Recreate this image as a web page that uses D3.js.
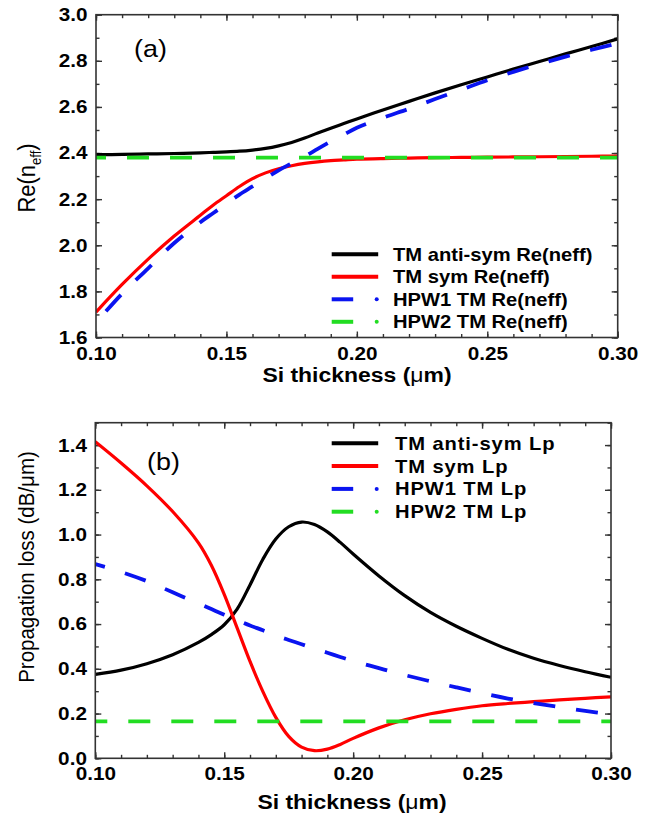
<!DOCTYPE html>
<html><head><meta charset="utf-8">
<script src="https://cdn.jsdelivr.net/npm/d3@7"></script>
<style>
body{margin:0;background:#fff}
svg{display:block}
text{font-family:"Liberation Sans",Arial,Helvetica,sans-serif}
</style>
</head><body>
<svg id="c" width="652" height="815"></svg>
<script>
// ---------------- DATA ----------------
const thickness = [0.10,0.11,0.12,0.13,0.14,0.145,0.15,0.155,0.16,0.165,0.17,0.175,0.18,0.185,0.19,0.195,0.20,0.21,0.22,0.23,0.24,0.25,0.26,0.27,0.28,0.29,0.30];

// panel (a): Re(neff)
const antiSymRe = [2.393,2.394,2.396,2.398,2.401,2.403,2.405,2.408,2.413,2.420,2.431,2.446,2.465,2.487,2.508,2.528,2.548,2.587,2.624,2.661,2.696,2.730,2.764,2.797,2.830,2.862,2.895];
const symRe     = [1.71,1.83,1.94,2.04,2.13,2.175,2.215,2.255,2.289,2.314,2.332,2.345,2.355,2.362,2.367,2.370,2.373,2.376,2.378,2.380,2.381,2.382,2.383,2.384,2.385,2.386,2.387];
const hpw1Re    = [1.665,1.79,1.90,2.01,2.10,2.14,2.18,2.22,2.255,2.29,2.325,2.355,2.385,2.418,2.45,2.48,2.51,2.553,2.592,2.634,2.675,2.716,2.752,2.786,2.818,2.848,2.876];
const hpw2Thickness = [0.10,0.30];
const hpw2Re    = [2.38,2.38];

// panel (b): propagation loss (dB/um)
const antiSymLp = [0.375,0.394,0.423,0.463,0.518,0.553,0.597,0.667,0.775,0.89,0.98,1.035,1.056,1.045,1.012,0.965,0.913,0.815,0.727,0.652,0.59,0.536,0.487,0.447,0.415,0.387,0.362];
const symLp     = [1.415,1.32,1.218,1.103,0.963,0.863,0.733,0.583,0.433,0.298,0.183,0.098,0.05,0.034,0.041,0.062,0.089,0.136,0.172,0.199,0.219,0.235,0.245,0.253,0.261,0.268,0.275];
const hpw1Lp    = [0.868,0.833,0.792,0.742,0.692,0.667,0.642,0.618,0.594,0.572,0.549,0.529,0.51,0.49,0.472,0.453,0.435,0.403,0.372,0.344,0.317,0.291,0.267,0.247,0.229,0.212,0.196];
const hpw2Lp    = [0.165,0.165];

// ticks / labels
const xTickValues = [0.10,0.15,0.20,0.25,0.30];
const reTickValues = [1.6,1.8,2.0,2.2,2.4,2.6,2.8,3.0];
const lpTickValues = [0.0,0.2,0.4,0.6,0.8,1.0,1.2,1.4];
const legendA = ["TM anti-sym Re(neff)","TM sym Re(neff)","HPW1 TM Re(neff)","HPW2 TM Re(neff)"];
const legendB = ["TM anti-sym Lp","TM sym Lp","HPW1 TM Lp","HPW2 TM Lp"];
const seriesColors = ["#000000","#ff0000","#0a14f0","#22dd22"];

// ---------------- DRAW ----------------
const svg = d3.select("#c");
const SX = 1.12;          // horizontal stretch of the original picture's text
const FRAME = "#333";

function stext(g, x, y, str, o={}) {
  const t = g.append("text")
    .attr("transform", `translate(${x},${y}) scale(${SX},1)`)
    .attr("font-size", o.size || 18)
    .attr("font-weight", o.weight || "bold")
    .attr("text-anchor", o.anchor || "start")
    .attr("fill", "#000");
  if (o.ls) t.attr("letter-spacing", o.ls);
  if (o.dy) t.attr("dy", o.dy);
  t.text(str);
  return t;
}

function panel(cfg) {
  const {L,R,T,B,yDomain,yTicks,series,legend,legX,legTextX,legY0,legDY,legLS,tag,tagX,tagY,id} = cfg;
  const x = d3.scaleLinear().domain([0.10,0.30]).range([L,R]);
  const y = d3.scaleLinear().domain(yDomain).range([B,T]);
  const g = svg.append("g");

  svg.append("clipPath").attr("id", "clip"+id)
    .append("rect").attr("x", L).attr("y", T).attr("width", R-L).attr("height", B-T);

  const xMinor = d3.range(0.10, 0.3001, 0.01);
  const yMinor = d3.range(yDomain[0], yDomain[1] + 1e-6, 0.1);
  const tickStyle = sel => {
    sel.select(".domain").remove();
    sel.selectAll(".tick line").attr("stroke", FRAME).attr("stroke-width", 1.4);
  };
  const labelStyle = sel => sel.selectAll(".tick text")
    .attr("font-size", 18.5).attr("font-weight", "bold").attr("fill", "#000")
    .attr("font-family", '"Liberation Sans",Arial,sans-serif')
    .attr("transform", `scale(${SX},1)`);

  // minor ticks (all sides, inward)
  g.append("g").attr("transform", `translate(0,${B})`)
    .call(d3.axisBottom(x).tickValues(xMinor).tickSize(-3.5).tickFormat("")).call(tickStyle);
  g.append("g").attr("transform", `translate(0,${T})`)
    .call(d3.axisTop(x).tickValues(xMinor).tickSize(-3.5).tickFormat("")).call(tickStyle);
  g.append("g").attr("transform", `translate(${L},0)`)
    .call(d3.axisLeft(y).tickValues(yMinor).tickSize(-3.5).tickFormat("")).call(tickStyle);
  g.append("g").attr("transform", `translate(${R},0)`)
    .call(d3.axisRight(y).tickValues(yMinor).tickSize(-3.5).tickFormat("")).call(tickStyle);

  // major ticks with labels
  g.append("g").attr("transform", `translate(0,${B})`)
    .call(d3.axisBottom(x).tickValues(xTickValues).tickSize(-6).tickPadding(9).tickFormat(d3.format(".2f")))
    .call(tickStyle).call(labelStyle);
  g.append("g").attr("transform", `translate(0,${T})`)
    .call(d3.axisTop(x).tickValues(xTickValues).tickSize(-6).tickFormat("")).call(tickStyle);
  g.append("g").attr("transform", `translate(${L},0)`)
    .call(d3.axisLeft(y).tickValues(yTicks).tickSize(-6).tickPadding(7.5).tickFormat(d3.format(".1f")))
    .call(tickStyle).call(labelStyle);
  g.append("g").attr("transform", `translate(${R},0)`)
    .call(d3.axisRight(y).tickValues(yTicks).tickSize(-6).tickFormat("")).call(tickStyle);

  // curves
  const cg = g.append("g").attr("clip-path", `url(#clip${id})`);
  series.forEach(s => {
    const pts = s.xs.map((t,i) => [t, s.ys[i]]);
    const line = d3.line().x(d => x(d[0])).y(d => y(d[1])).curve(d3.curveCatmullRom.alpha(0.5));
    const p = cg.append("path").datum(pts).attr("d", line)
      .attr("fill", "none").attr("stroke", s.color)
      .attr("stroke-width", s.dash ? 3.8 : 3.2)
      .attr("stroke-linejoin", "round");
    if (s.dash) p.attr("stroke-dasharray", "22,21").attr("stroke-dashoffset", s.offset || 0);
  });

  // frame
  g.append("rect").attr("x", L).attr("y", T).attr("width", R-L).attr("height", B-T)
    .attr("fill", "none").attr("stroke", FRAME).attr("stroke-width", 1.6);

  // legend
  const lg = g.append("g");
  legend.forEach((lab, i) => {
    const yy = legY0 + i*legDY;
    const s = series[i];
    if (s.dash) {
      lg.append("line").attr("x1", legX).attr("x2", legX+21.5).attr("y1", yy).attr("y2", yy)
        .attr("stroke", s.color).attr("stroke-width", 4);
      lg.append("circle").attr("cx", legX+45).attr("cy", yy).attr("r", 2).attr("fill", s.color);
    } else {
      lg.append("line").attr("x1", legX).attr("x2", legX+46.5).attr("y1", yy).attr("y2", yy)
        .attr("stroke", s.color).attr("stroke-width", 4);
    }
    stext(lg, legTextX, yy, lab, {size: 18, dy: "0.36em", ls: legLS});
  });

  // panel tag
  stext(g, tagX, tagY, tag, {size: 24, weight: "normal"});
  return {x, y, g};
}

// panel (a)
panel({
  id: "a", L: 96, R: 617.7, T: 14.7, B: 337.5, yDomain: [1.6, 3.0], yTicks: reTickValues,
  series: [
    {xs: thickness, ys: antiSymRe, color: seriesColors[0]},
    {xs: thickness, ys: symRe, color: seriesColors[1]},
    {xs: thickness, ys: hpw1Re, color: seriesColors[2], dash: true, offset: 28},
    {xs: hpw2Thickness, ys: hpw2Re, color: seriesColors[3], dash: true, offset: 12}
  ],
  legend: legendA, legX: 331.7, legTextX: 393, legY0: 254.3, legDY: 22.5, legLS: 0,
  tag: "(a)", tagX: 134, tagY: 57
});

// panel (b)
panel({
  id: "b", L: 95.3, R: 611, T: 422.7, B: 758.3, yDomain: [0.0, 1.5], yTicks: lpTickValues,
  series: [
    {xs: thickness, ys: antiSymLp, color: seriesColors[0]},
    {xs: thickness, ys: symLp, color: seriesColors[1]},
    {xs: thickness, ys: hpw1Lp, color: seriesColors[2], dash: true, offset: 12},
    {xs: hpw2Thickness, ys: hpw2Lp, color: seriesColors[3], dash: true, offset: 10}
  ],
  legend: legendB, legX: 331.7, legTextX: 395, legY0: 443.3, legDY: 22.8, legLS: 0.8,
  tag: "(b)", tagX: 147, tagY: 470
});

// axis titles
function xTitle(cx, by) {
  const t = svg.append("text")
    .attr("transform", `translate(${cx},${by}) scale(${SX},1)`)
    .attr("text-anchor", "middle").attr("font-size", 20.5).attr("font-weight", "bold");
  t.append("tspan").text("Si thickness (");
  t.append("tspan").attr("font-weight", "normal").text("μ");
  t.append("tspan").text("m)");
}
xTitle(357, 382);
xTitle(352, 809);

// y title (a)
{
  const t = svg.append("text")
    .attr("transform", `translate(35,178) scale(${SX},1) rotate(-90)`)
    .attr("text-anchor", "middle").attr("font-size", 22).attr("font-weight", "normal");
  t.append("tspan").text("Re(n");
  t.append("tspan").attr("font-size", 13).attr("dy", 5).text("eff");
  t.append("tspan").attr("dy", -5).text(")");
}
// y title (b)
{
  const t = svg.append("text")
    .attr("transform", `translate(34,567) scale(${SX},1) rotate(-90)`)
    .attr("text-anchor", "middle").attr("font-size", 20.5).attr("font-weight", "normal");
  t.append("tspan").text("Propagation loss (dB/");
  t.append("tspan").text("μ");
  t.append("tspan").text("m)");
}
</script>
</body></html>
